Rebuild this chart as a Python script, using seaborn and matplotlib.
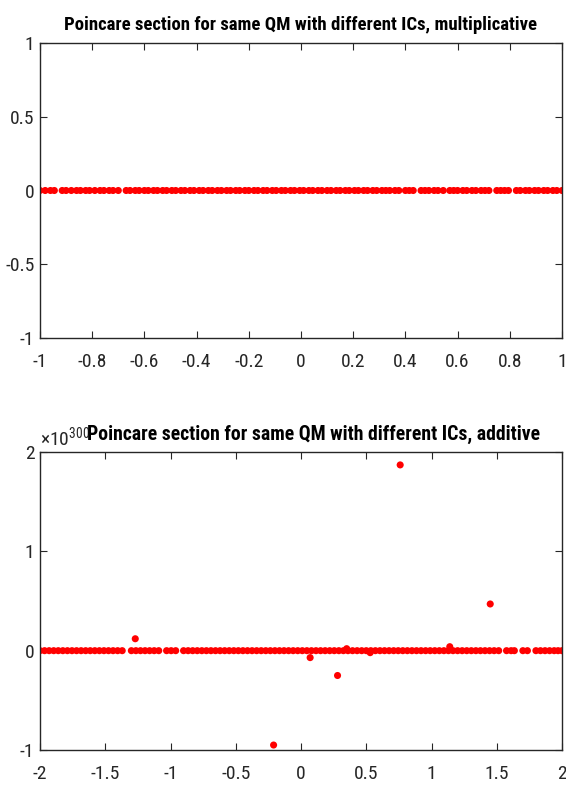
import matplotlib
matplotlib.use("Agg")
import matplotlib.pyplot as plt
import seaborn as sns
import pandas as pd

# Section points of the multiplicative run (all sit on y = 0)
mult_x = [-1.00, -0.98, -0.96, -0.945, -0.915, -0.90, -0.88, -0.86, -0.845, -0.825,
          -0.81, -0.79, -0.77, -0.755, -0.735, -0.72, -0.70, -0.67, -0.655, -0.635,
          -0.62, -0.60, -0.585, -0.565, -0.55, -0.53, -0.515, -0.495, -0.48, -0.46,
          -0.445, -0.425, -0.41, -0.39, -0.375, -0.355, -0.34, -0.32, -0.305, -0.285,
          -0.27, -0.25, -0.235, -0.215, -0.20, -0.18, -0.165, -0.145, -0.13, -0.11,
          -0.095, -0.075, -0.06, -0.04, -0.025, -0.005, 0.01, 0.03, 0.045, 0.065,
          0.08, 0.10, 0.115, 0.135, 0.15, 0.17, 0.185, 0.205, 0.22, 0.24,
          0.255, 0.275, 0.29, 0.31, 0.325, 0.34, 0.36, 0.375, 0.40, 0.415,
          0.43, 0.46, 0.475, 0.49, 0.51, 0.525, 0.545, 0.57, 0.585, 0.60,
          0.62, 0.635, 0.655, 0.67, 0.69, 0.705, 0.72, 0.75, 0.765, 0.78,
          0.795, 0.825, 0.84, 0.86, 0.875, 0.895, 0.91, 0.93, 0.945, 0.965,
          0.98, 1.00]
mult_y = [0.0] * len(mult_x)

# Section points of the additive run on y = 0
add_x = [-2.00, -1.965, -1.93, -1.895, -1.86, -1.825, -1.79, -1.755, -1.72, -1.685,
         -1.65, -1.615, -1.58, -1.545, -1.51, -1.475, -1.44, -1.405, -1.37, -1.30,
         -1.265, -1.23, -1.195, -1.16, -1.125, -1.09, -1.03, -0.995, -0.96, -0.90,
         -0.865, -0.83, -0.795, -0.76, -0.725, -0.69, -0.655, -0.62, -0.585, -0.55,
         -0.515, -0.48, -0.445, -0.41, -0.375, -0.34, -0.305, -0.27, -0.235, -0.20,
         -0.165, -0.13, -0.095, -0.06, -0.025, 0.01, 0.045, 0.08, 0.115, 0.15,
         0.185, 0.22, 0.255, 0.29, 0.325, 0.36, 0.395, 0.43, 0.465, 0.50,
         0.535, 0.57, 0.605, 0.64, 0.675, 0.71, 0.745, 0.78, 0.815, 0.85,
         0.885, 0.92, 0.955, 0.99, 1.025, 1.06, 1.095, 1.13, 1.165, 1.20,
         1.235, 1.27, 1.305, 1.34, 1.375, 1.41, 1.445, 1.48, 1.515, 1.575,
         1.61, 1.635, 1.70, 1.735, 1.80, 1.835, 1.87, 1.905, 1.94, 1.97, 2.00]
add_y = [0.0] * len(add_x)

# Escaped points of the additive run (y in units of 1e300)
esc_x = [-1.27, -0.21, 0.07, 0.28, 0.35, 0.53, 0.76, 1.14, 1.45]
esc_y = [0.12, -0.95, -0.07, -0.25, 0.02, -0.02, 1.87, 0.04, 0.47]

mult_ticks_x = [-1, -0.8, -0.6, -0.4, -0.2, 0, 0.2, 0.4, 0.6, 0.8, 1]
mult_ticks_y = [-1, -0.5, 0, 0.5, 1]
add_ticks_x = [-2, -1.5, -1, -0.5, 0, 0.5, 1, 1.5, 2]
add_ticks_y = [-1, 0, 1, 2]

sns.set_style("white")
plt.rcParams["font.family"] = ["Roboto Condensed", "DejaVu Sans"]
plt.rcParams["mathtext.fontset"] = "custom"
plt.rcParams["mathtext.rm"] = "Roboto Condensed"
plt.rcParams["mathtext.it"] = "Roboto Condensed"
plt.rcParams["mathtext.bf"] = "Roboto Condensed:bold"

fig = plt.figure(figsize=(5.66, 7.86), dpi=100)
ax1 = fig.add_axes([40 / 566, 1 - 338 / 786, 522 / 566, 295 / 786])
ax2 = fig.add_axes([40 / 566, 1 - 750 / 786, 522 / 566, 298 / 786])

df_mult = pd.DataFrame({"x": mult_x, "y": mult_y})
df_add = pd.DataFrame({"x": add_x + esc_x, "y": add_y + esc_y})

dot = dict(color="#ff0000", edgecolor="none", s=26, marker="o", legend=False)
sns.scatterplot(data=df_mult, x="x", y="y", ax=ax1, **dot)
sns.scatterplot(data=df_add, x="x", y="y", ax=ax2, **dot)


def style(ax, xt, yt, xlim, ylim):
    ax.set_xlim(*xlim)
    ax.set_ylim(*ylim)
    ax.set_xticks(xt)
    ax.set_yticks(yt)
    ax.set_xticklabels(["%g" % v for v in xt])
    ax.set_yticklabels(["%g" % v for v in yt])
    ax.set_xlabel("")
    ax.set_ylabel("")
    for s in ax.spines.values():
        s.set_visible(True)
        s.set_color("#262626")
        s.set_linewidth(1.0)
    ax.tick_params(direction="in", length=5, width=0.8, colors="#262626",
                   labelsize=14, top=True, right=True, bottom=True, left=True,
                   labelcolor="#262626")
    ax.tick_params(axis="x", pad=11)
    ax.tick_params(axis="y", pad=4)


style(ax1, mult_ticks_x, mult_ticks_y, (-1, 1), (-1, 1))
style(ax2, add_ticks_x, add_ticks_y, (-2, 2), (-1, 2))

ax1.set_title("Poincare section for same QM with different ICs, multiplicative",
              fontsize=13.5, fontweight="bold", pad=9, color="black")
ax2.set_title("Poincare section for same QM with different ICs, additive",
              fontsize=14.2, fontweight="bold", pad=9, x=0.524, color="black")
ax2.text(0.0, 1.01, r"$\times10^{300}$", transform=ax2.transAxes,
         fontsize=14, color="#262626", ha="left", va="bottom")

fig.savefig("out.png", dpi=100)
